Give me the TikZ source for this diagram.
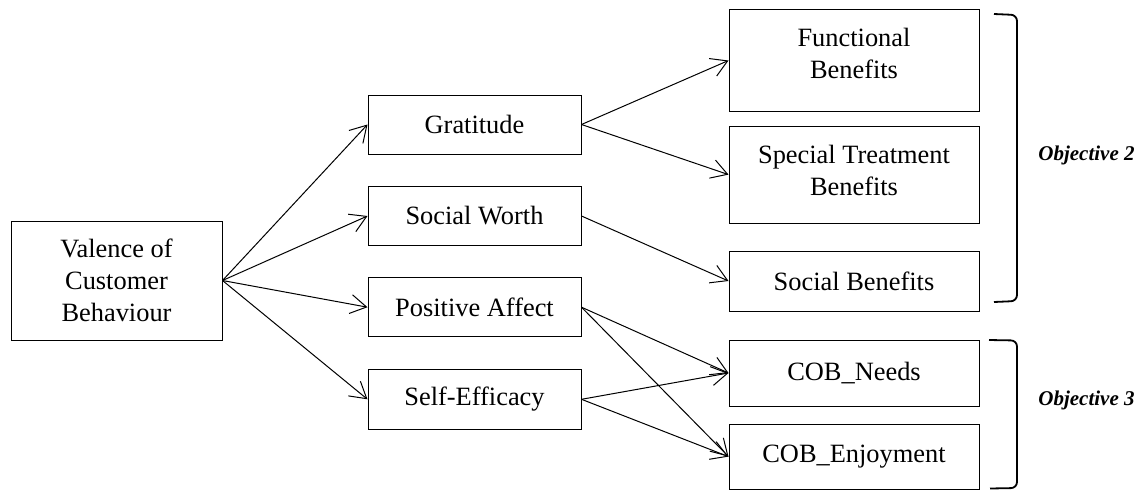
\documentclass[tikz,border=0pt]{standalone}
\usepackage{fontspec}
\setmainfont{Liberation Serif}
\usetikzlibrary{arrows.meta}
\begin{document}
\begin{tikzpicture}[x=1pt,y=-1pt,
  box/.style={draw, line width=1pt, inner sep=0pt, align=center,
    font=\fontsize{26.4}{32}\selectfont},
  link/.style={line width=1pt, -{Straight Barb[length=16pt,width=19pt]}},
  brace/.style={line width=1.8pt, rounded corners=6pt},
  goal/.style={font=\fontsize{21}{25}\selectfont\bfseries\itshape}]
\useasboundingbox (0,0) rectangle (1141,491);

% source construct
\node[box, minimum width=211pt, minimum height=119pt] (val) at (116.5,280.5)
  {Valence of\\Customer\\Behaviour};

% mediators
\node[box, minimum width=213pt, minimum height=59pt] (grat) at (474.5,124.5) {Gratitude};
\node[box, minimum width=213pt, minimum height=59pt] (sw)   at (474.5,216)   {Social Worth};
\node[box, minimum width=213pt, minimum height=59pt] (pa)   at (474.5,307.2) {Positive Affect};
\node[box, minimum width=213pt, minimum height=60pt] (se)   at (474.5,399.3) {Self-Efficacy};

% outcomes (the two-line labels sit a little above the box centre)
\node[box, minimum width=250pt, minimum height=102pt, text depth=14pt] (fb)  at (854,60.5)  {Functional\\Benefits};
\node[box, minimum width=250pt, minimum height=97pt, text depth=9pt]   (stb) at (854,174.6) {Special Treatment\\Benefits};
\node[box, minimum width=250pt, minimum height=60pt]  (sb)  at (854,281)   {Social Benefits};
\node[box, minimum width=250pt, minimum height=66pt]  (cn)  at (854,373)   {COB\_Needs};
\node[box, minimum width=250pt, minimum height=65pt]  (ce)  at (854,456.6) {COB\_Enjoyment};

% connectors
\foreach \t in {grat,sw,pa,se} \draw[link] (val.east) -- (\t.west);
\draw[link] (grat.east) -- (fb.west);
\draw[link] (grat.east) -- (stb.west);
\draw[link] (sw.east) -- (sb.west);
\draw[link] (pa.east) -- (cn.west);
\draw[link] (pa.east) -- (ce.west);
\draw[link] (se.east) -- (cn.west);
\draw[link] (se.east) -- (ce.west);

% objective brackets
\coordinate (b2t) at (994,14);
\coordinate (b2b) at (994,302);
\coordinate (b3t) at (989,340);
\coordinate (b3b) at (990,488.5);
\draw[brace] (b2t) -- (1017,15) -- (1017,301) -- (b2b);
\draw[brace] (b3t) -- (1017,340.5) -- (1017,488) -- (b3b);
\node[goal] (o2) at (1086.5,155) {Objective 2};
\node[goal] (o3) at (1086.5,400) {Objective 3};
\end{tikzpicture}
\end{document}
